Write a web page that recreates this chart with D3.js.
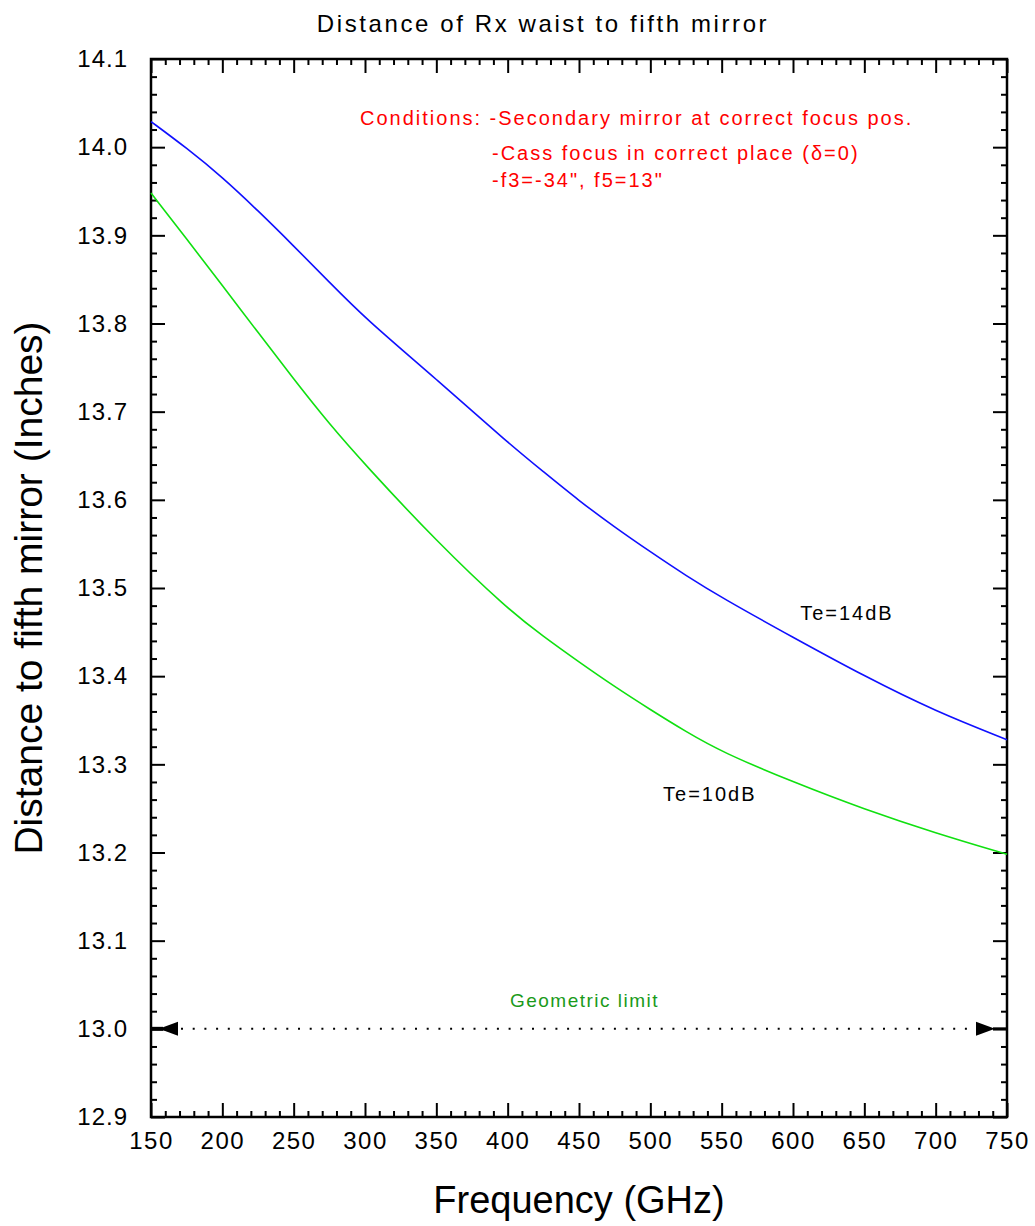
<!DOCTYPE html>
<html>
<head>
<meta charset="utf-8">
<script src="https://cdn.jsdelivr.net/npm/d3@7"></script>
<style>
  body { margin: 0; background: #fff; }
  svg text { font-family: "Liberation Sans", Arial, sans-serif; }
</style>
</head>
<body>
<div id="chart"></div>
<script>
// values
let freq = [150, 175, 200, 225, 250, 275, 300, 350, 400, 425, 450, 475, 500, 525, 550, 600, 650, 700, 750]
let te14 = [14.029, 13.999, 13.966, 13.928, 13.888, 13.847, 13.806, 13.737, 13.665, 13.632, 13.599, 13.569, 13.541, 13.514, 13.489, 13.444, 13.40, 13.36, 13.328]
let te10 = [13.948, 13.896, 13.843, 13.79, 13.737, 13.686, 13.64, 13.553, 13.476, 13.445, 13.416, 13.388, 13.362, 13.337, 13.314, 13.28, 13.249, 13.222, 13.198]
let geoLimit = 13.0
let xTicks = [150, 200, 250, 300, 350, 400, 450, 500, 550, 600, 650, 700, 750]
let yTicks = [12.9, 13.0, 13.1, 13.2, 13.3, 13.4, 13.5, 13.6, 13.7, 13.8, 13.9, 14.0, 14.1]
let notes = ['Conditions: -Secondary mirror at correct focus pos.', '-Cass focus in correct place (\u03b4=0)', '-f3=-34", f5=13"']

let width = 1035,
  height = 1226,
  margin = {top: 59, right: 28, bottom: 109, left: 151}

let x = d3.scaleLinear()
  .domain([150, 750])
  .range([margin.left, width - margin.right])

let y = d3.scaleLinear()
  .domain([12.9, 14.1])
  .range([height - margin.bottom, margin.top])

let svg = d3.select('#chart').append('svg')
  .attr('width', width)
  .attr('height', height)

let minorX = d3.range(150, 751, 10).filter(function (d) { return d % 50 !== 0 })
let minorY = d3.range(0, 61).map(function (i) { return +(12.9 + i * 0.02).toFixed(2) })
  .filter(function (d) { return Math.abs(d * 10 - Math.round(d * 10)) > 0.01 })

// ticks, all pointing inward
function tickAxis(axis, transform) {
  let g = svg.append('g').attr('transform', transform).call(axis)
  g.select('.domain').remove()
  g.selectAll('line').attr('stroke', '#000').attr('stroke-width', 2)
  return g
}

let bottom = tickAxis(d3.axisBottom(x).tickValues(xTicks).tickSizeInner(-14).tickSizeOuter(0).tickPadding(15),
  'translate(0,' + y(12.9) + ')')
bottom.selectAll('text').attr('font-size', 24).attr('fill', '#000').attr('letter-spacing', 1.5)
tickAxis(d3.axisBottom(x).tickValues(minorX).tickSizeInner(-6).tickSizeOuter(0).tickFormat(''), 'translate(0,' + y(12.9) + ')')
tickAxis(d3.axisTop(x).tickValues(xTicks).tickSizeInner(-14).tickSizeOuter(0).tickFormat(''), 'translate(0,' + y(14.1) + ')')
tickAxis(d3.axisTop(x).tickValues(minorX).tickSizeInner(-6).tickSizeOuter(0).tickFormat(''), 'translate(0,' + y(14.1) + ')')

let left = tickAxis(d3.axisLeft(y).tickValues(yTicks).tickSizeInner(-14).tickSizeOuter(0).tickPadding(23).tickFormat(d3.format('.1f')),
  'translate(' + x(150) + ',0)')
left.selectAll('text').attr('font-size', 24).attr('fill', '#000').attr('letter-spacing', 1)
tickAxis(d3.axisLeft(y).tickValues(minorY).tickSizeInner(-6).tickSizeOuter(0).tickFormat(''), 'translate(' + x(150) + ',0)')
tickAxis(d3.axisRight(y).tickValues(yTicks).tickSizeInner(-14).tickSizeOuter(0).tickFormat(''), 'translate(' + x(750) + ',0)')
tickAxis(d3.axisRight(y).tickValues(minorY).tickSizeInner(-6).tickSizeOuter(0).tickFormat(''), 'translate(' + x(750) + ',0)')

// frame
svg.append('rect')
  .attr('x', x(150))
  .attr('y', y(14.1))
  .attr('width', x(750) - x(150))
  .attr('height', y(12.9) - y(14.1))
  .attr('fill', 'none')
  .attr('stroke', '#000')
  .attr('stroke-width', 2.5)

// curves
let line = d3.line()
  .x(function (d) { return x(d[0]) })
  .y(function (d) { return y(d[1]) })
  .curve(d3.curveBasis)

svg.append('path')
  .datum(d3.zip(freq, te14))
  .attr('d', line)
  .attr('fill', 'none')
  .attr('stroke', '#1010ff')
  .attr('stroke-width', 1.6)

svg.append('path')
  .datum(d3.zip(freq, te10))
  .attr('d', line)
  .attr('fill', 'none')
  .attr('stroke', '#10e010')
  .attr('stroke-width', 1.6)

// geometric limit, dotted with arrow heads at both ends
let gy = y(geoLimit)
svg.append('line')
  .attr('x1', x(150) + 30).attr('x2', x(750) - 30)
  .attr('y1', gy).attr('y2', gy)
  .attr('stroke', '#000')
  .attr('stroke-width', 2)
  .attr('stroke-dasharray', '2,9.7')
svg.append('line')
  .attr('x1', x(150)).attr('x2', x(150) + 12)
  .attr('y1', gy).attr('y2', gy)
  .attr('stroke', '#000').attr('stroke-width', 4)
svg.append('line')
  .attr('x1', x(750) - 14).attr('x2', x(750))
  .attr('y1', gy).attr('y2', gy)
  .attr('stroke', '#000').attr('stroke-width', 3)
svg.append('path')
  .attr('d', 'M' + (x(150) + 8) + ',' + gy + 'L' + (x(150) + 27) + ',' + (gy - 7) + 'L' + (x(150) + 27) + ',' + (gy + 7) + 'Z')
  .attr('fill', '#000')
svg.append('path')
  .attr('d', 'M' + (x(750) - 12) + ',' + gy + 'L' + (x(750) - 31) + ',' + (gy - 7) + 'L' + (x(750) - 31) + ',' + (gy + 7) + 'Z')
  .attr('fill', '#000')

svg.append('text')
  .attr('x', x(401.6)).attr('y', y(13.025))
  .attr('font-size', 19).attr('letter-spacing', 1.5)
  .attr('fill', '#1a9a1a')
  .text('Geometric limit')

// curve labels
svg.append('text')
  .attr('x', x(605)).attr('y', y(13.464))
  .attr('font-size', 20).attr('letter-spacing', 2)
  .attr('fill', '#000')
  .text('Te=14dB')
svg.append('text')
  .attr('x', x(508.9)).attr('y', y(13.258))
  .attr('font-size', 20).attr('letter-spacing', 2)
  .attr('fill', '#000')
  .text('Te=10dB')

// conditions note
let noteX = [x(296.5), x(389), x(389)],
  noteY = [y(14.025), y(13.985), y(13.955)]
svg.append('g').selectAll('text')
  .data(notes)
  .enter().append('text')
  .attr('x', function (d, i) { return noteX[i] })
  .attr('y', function (d, i) { return noteY[i] })
  .attr('font-size', 20)
  .attr('letter-spacing', 2)
  .attr('fill', '#ff0000')
  .text(function (d) { return d })

// titles
svg.append('text')
  .attr('x', 543).attr('y', 32)
  .attr('text-anchor', 'middle')
  .attr('font-size', 24).attr('letter-spacing', 2.6)
  .attr('fill', '#000')
  .text('Distance of Rx waist to fifth mirror')

svg.append('text')
  .attr('x', (x(150) + x(750)) / 2).attr('y', 1213)
  .attr('text-anchor', 'middle')
  .attr('font-size', 38)
  .attr('fill', '#000')
  .text('Frequency (GHz)')

svg.append('text')
  .attr('transform', 'translate(42,' + ((y(12.9) + y(14.1)) / 2) + ') rotate(-90)')
  .attr('text-anchor', 'middle')
  .attr('font-size', 39)
  .attr('fill', '#000')
  .text('Distance to fifth mirror (Inches)')
</script>
</body>
</html>
